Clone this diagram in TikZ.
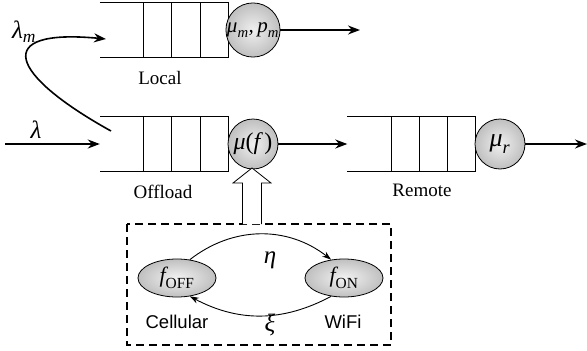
\documentclass[tikz,border=0pt]{standalone}
\usepackage{amsmath}
\usepackage{fontspec}
\setmainfont{Liberation Serif}
\newfontfamily\arialfont{Liberation Sans}
\usetikzlibrary{arrows.meta, shapes.geometric, calc}

\begin{document}
\begin{tikzpicture}[x = 1pt, y = -1pt,
    queue/.style = {minimum width = 128pt, minimum height = 55pt, inner sep = 0pt},
    server/.style = {circle, draw, line width = 0.8pt, minimum size = 50pt, inner sep = 0pt,
        inner color = gray!12, outer color = gray!50, font = \fontsize{24}{24}\selectfont},
    state/.style = {ellipse, draw, line width = 0.8pt, minimum width = 78pt, minimum height = 38pt,
        inner sep = 0pt, inner color = gray!10, outer color = gray!50, font = \fontsize{22}{22}\selectfont},
    flow/.style = {line width = 1.6pt, -{Stealth[length = 12pt, width = 9pt]}},
    swap/.style = {line width = 0.9pt, -{Stealth[length = 9pt, width = 6pt]}},
    lbl/.style = {font = \fontsize{19}{19}\selectfont},
    sym/.style = {font = \fontsize{25}{25}\selectfont},
    tag/.style = {font = \arialfont\fontsize{18.5}{18.5}\selectfont}]

    \useasboundingbox (0, 0) rectangle (587, 351);

% The three queues are open on the left, with three slots each.
    \node [queue] (locq) at (164, 30) {};
    \node [queue] (offq) at (164, 144) {};
    \node [queue] (remq) at (411.5, 144) {};
    \foreach \q in {locq, offq, remq} {
        \draw [line width = 1.2pt] (\q.north west) -- (\q.north east) -- (\q.south east) -- (\q.south west);
        \foreach \d in {0.66, 0.44, 0.22}
            \draw [line width = 0.7pt] ($(\q.north east)!\d!(\q.north west)$) -- ($(\q.south east)!\d!(\q.south west)$);
    }

    \node [lbl] (loclbl) at (160, 78) {Local};
    \node [lbl] (offlbl) at (163, 192) {Offload};
    \node [lbl] (remlbl) at (422, 190) {Remote};

% Servers sit at the closed end of each queue.
    \node [server] (locs) at (253, 30) {\fontsize{21}{21}\selectfont$\textit{μ}_{\textit{m}}\textit{,\,p}_{\textit{m}}$};
    \node [server] (offs) at (253, 144) {\textit{μ}(\textit{f\,})};
    \node [server] (rems) at (500, 144) {\fontsize{26}{26}\selectfont$\textit{μ}_{\textit{r}}$};

    \coordinate (lin) at (5, 144);
    \coordinate (lout) at (360, 30);
    \coordinate (rout) at (587, 144);
    \coordinate (lmstart) at (111, 131);
    \coordinate (lmend) at (106, 39);

    \draw [flow] (lin) -- (offq.west);
    \draw [flow] (locs) -- (lout);
    \draw [flow] (offs) -- (remq.west);
    \draw [flow] (rems) -- (rout);
    \draw [flow] (lmstart) .. controls (10, 75) and (-10, 28) .. (lmend);

    \node [sym] (lam) at (36, 130) {\textit{λ}};
    \node [sym] (lamm) at (24, 32) {$\textit{λ}_{\textit{m}}$};

% The channel box and the hollow arrow up to the offload server.
    \draw [line width = 1.2pt, dash pattern = on 8pt off 5pt] (127, 224) rectangle (391, 345);
    \draw [line width = 0.8pt, fill = white] (242.5, 224) -- (242.5, 183) -- (233, 183) -- (252, 168)
        -- (271, 183) -- (261.5, 183) -- (261.5, 224);

    \node [state] (off) at (177, 278) {$\textit{f}_{\textrm{OFF}}$};
    \node [state] (on) at (344, 278) {$\textit{f}_{\textrm{ON}}$};
    \draw [swap] (off.55) to [bend left = 38] (on.125);
    \draw [swap] (on.-125) to [bend left = 28] (off.-55);

    \node [sym] (eta) at (270, 260) {\textit{η}};
    \node [sym] (xi) at (270, 325) {\textit{ξ}};
    \node [tag] (cell) at (177, 322) {Cellular};
    \node [tag] (wifi) at (343, 322) {WiFi};

\end{tikzpicture}
\end{document}
